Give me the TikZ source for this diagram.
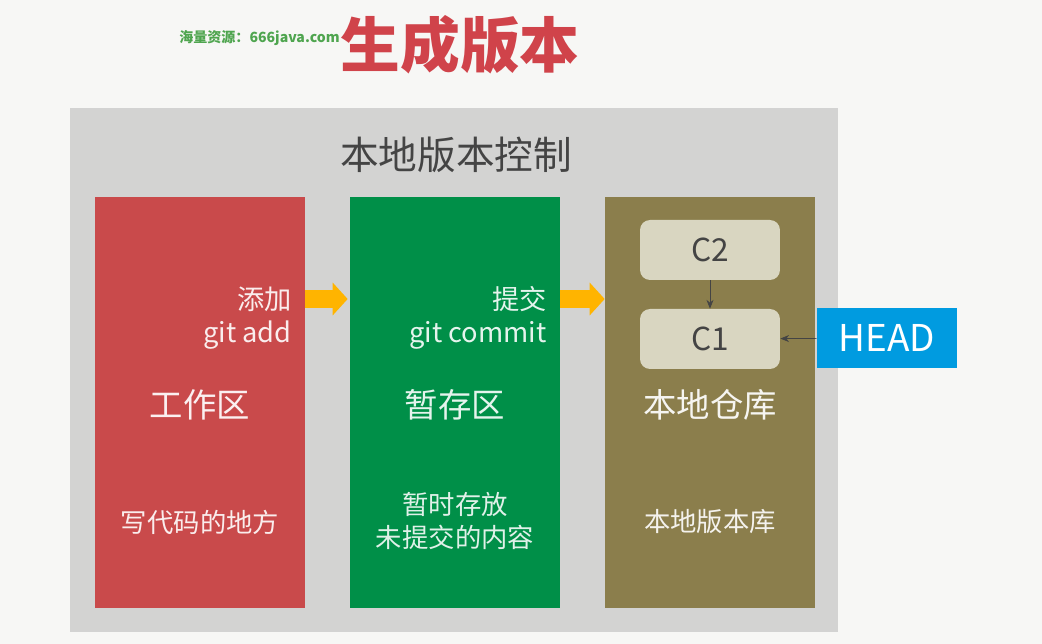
\documentclass[tikz,border=0pt]{standalone}
\usepackage{fontspec}
\setmainfont{Noto Sans CJK SC}
\newfontfamily\cjk{Noto Sans CJK SC}
\usetikzlibrary{arrows.meta}
\definecolor{pagebg}{HTML}{F7F7F5}
\definecolor{panelgray}{HTML}{D3D3D2}
\definecolor{workred}{HTML}{C94A4B}
\definecolor{stagegreen}{HTML}{008F48}
\definecolor{repoolive}{HTML}{8B7E4C}
\definecolor{commitbox}{HTML}{D9D6C1}
\definecolor{headblue}{HTML}{009BE0}
\definecolor{flowyellow}{HTML}{FFB400}
\definecolor{titlered}{HTML}{D0434A}
\definecolor{markgreen}{HTML}{4FA54F}
\definecolor{darktext}{HTML}{444444}
\begin{document}
\begin{tikzpicture}[x=0.02cm,y=-0.02cm,
  area/.style={minimum width=4.2cm,minimum height=8.22cm,inner sep=0pt},
  commit/.style={fill=commitbox,rounded corners=0.2cm,minimum width=2.8cm,minimum height=1.2cm,
    text=darktext,font=\fontsize{18}{20}\selectfont},
  addarrow/.style={flowyellow,line width=0.36cm,-{Triangle[length=0.3cm,width=0.64cm]}},
  link/.style={darktext,thin,-{Stealth[length=5pt,width=4pt]}}]
  % background and panel
  \fill[pagebg] (0,0) rectangle (1042,644);
  \fill[panelgray] (70,108) rectangle (838,632);
  % titles
  \node[text=titlered,font=\fontsize{34}{36}\selectfont\bfseries] (title) at (460,45) {生成版本};
  \node[text=markgreen,font=\fontsize{8}{10}\selectfont\bfseries,anchor=east,inner sep=0pt] (mark) at (340,38) {海量资源：666java.com};
  \node[text=darktext,font=\fontsize{22}{24}\selectfont] (local) at (456,155) {本地版本控制};
  % three areas
  \node[area,fill=workred] (work) at (200,402.5) {};
  \node[area,fill=stagegreen] (stage) at (455,402.5) {};
  \node[area,fill=repoolive] (repo) at (710,402.5) {};
  \draw[addarrow] ([yshift=2.07cm]work.east) -- ([yshift=2.07cm,xshift=-0.04cm]stage.west);
  \draw[addarrow] ([yshift=2.07cm]stage.east) -- ([yshift=2.07cm]repo.west);
  % texts of the areas
  \node[text=white!90!workred,font=\fontsize{15.5}{18.7}\selectfont,align=right,anchor=east,inner sep=0pt] (addcmd) at (292,318) {添加\\git add};
  \node[text=white!90!stagegreen,font=\fontsize{15.5}{18.7}\selectfont,align=right,anchor=east,inner sep=0pt] (commitcmd) at (547,318) {提交\\git commit};
  \node[text=white!92!workred,font=\fontsize{19}{22}\selectfont] (worktitle) at (200,405) {工作区};
  \node[text=white!90!stagegreen,font=\fontsize{19}{22}\selectfont] (stagetitle) at (455,405) {暂存区};
  \node[text=white!92!repoolive,font=\fontsize{19}{22}\selectfont] (repotitle) at (710,405) {本地仓库};
  \node[text=white!90!workred,font=\fontsize{15}{18}\selectfont] (worknote) at (200,522) {写代码的地方};
  \node[text=white!88!stagegreen,font=\fontsize{15}{18.7}\selectfont,align=center] (stagenote) at (455,521) {暂时存放\\未提交的内容};
  \node[text=white!90!repoolive,font=\fontsize{15}{18}\selectfont] (reponote) at (710,522) {本地版本库};
  % commits and HEAD
  \node[commit] (c2) at (710,250) {C2};
  \node[commit] (c1) at (710,339) {C1};
  \node[fill=headblue,text=white,minimum width=2.8cm,minimum height=1.2cm,font=\fontsize{21}{24}\selectfont] (head) at (887,338) {HEAD};
  \draw[link] (c2) -- (c1);
  \draw[link] (head) -- (c1);
\end{tikzpicture}
\end{document}
